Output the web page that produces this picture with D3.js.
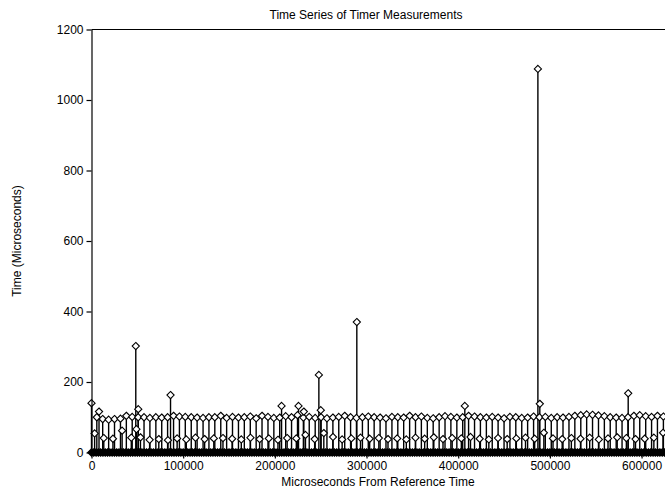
<!DOCTYPE html>
<html>
<head>
<meta charset="utf-8">
<script src="https://cdn.jsdelivr.net/npm/d3@7"></script>
<style>
  html, body { margin: 0; padding: 0; background: #fff; }
  svg { display: block; }
  text { font-family: "Liberation Sans", Arial, sans-serif; fill: #000; }
</style>
</head>
<body>
<svg id="chart" width="665" height="491"></svg>
<script>
// ---------- data (microseconds) ----------
const title = "Time Series of Timer Measurements";
const xLabel = "Microseconds From Reference Time";
const yLabel = "Time (Microseconds)";
const xTicks = [0, 100000, 200000, 300000, 400000, 500000, 600000];
const yTicks = [0, 200, 400, 600, 800, 1000, 1200];

// regular ~100 us measurements
const highPoints = [
  [5800,100],[12200,95],[18700,93],[25100,95],[31600,96],[38000,104],[44400,101],[50900,100],[57300,100],[63700,98],
  [70200,100],[76600,99],[83000,100],[89500,104],[95900,102],[102300,101],[108800,100],[115200,99],[121700,98],[128100,100],
  [134500,100],[141000,104],[147400,98],[153800,101],[160300,99],[166700,100],[173200,102],[179600,97],[186000,104],[192500,101],
  [198900,98],[205300,99],[211800,103],[218200,100],[224700,106],[231100,99],[237500,101],[244000,98],[250400,100],[256800,97],
  [263300,99],[269700,101],[276200,104],[282600,100],[289000,98],[295500,100],[301900,102],[308300,100],[314800,99],[321200,97],
  [327700,101],[334100,100],[340500,99],[347000,104],[353400,100],[359800,102],[366300,98],[372700,97],[379200,100],[385600,103],
  [392000,101],[398500,99],[404900,100],[411300,104],[417800,102],[424200,100],[430700,99],[437100,101],[443500,99],[450000,97],
  [456400,101],[462800,100],[469300,98],[475700,99],[482200,102],[488600,100],[495000,101],[501500,98],[507900,100],[514300,99],
  [520800,101],[527200,104],[533700,106],[540100,108],[546500,107],[553000,105],[559400,103],[565800,100],[572300,99],[578700,98],
  [585200,100],[591600,104],[598000,106],[604500,103],[610900,101],[617300,104],[623800,102],[630200,100]
];

// ~40 us measurements
const midPoints = [
  [3400,54],[13400,41],[23400,39],[33400,62],[43400,42],[53400,43],[63400,36],[73400,38],[83400,35],[93400,40],
  [103400,37],[113400,42],[123400,38],[133400,40],[143400,41],[153400,39],[163400,37],[173400,42],[183400,38],[193400,40],
  [203400,36],[213400,41],[223400,40],[233400,50],[243400,38],[253400,55],[263400,44],[273400,37],[283400,40],[293400,42],
  [303400,39],[313400,41],[323400,38],[333400,40],[343400,37],[353400,42],[363400,39],[373400,43],[383400,38],[393400,41],
  [403400,40],[413400,44],[423400,39],[433400,37],[443400,41],[453400,38],[463400,40],[473400,42],[483400,39],[493400,56],
  [503400,40],[513400,38],[523400,41],[533400,39],[543400,42],[553400,37],[563400,40],[573400,43],[583400,41],[593400,38],
  [603400,39],[613400,42],[623400,56]
];

// isolated larger readings
const spikePoints = [
  [0,140],[8200,116],[48300,302],[49000,66],[51000,123],[86200,163],[207300,132],[225800,132],[231600,116],
  [248000,220],[250100,120],[289400,370],[407200,132],[486900,1088],[489000,138],[585400,168]
];

// near-zero readings (dense band on the baseline)
const baseTimes = [
  0,2500,5000,7500,10000,12500,15000,17500,20000,22500,25000,27500,30000,32500,35000,37500,40000,42500,45000,47500,
  50000,52500,55000,57500,60000,62500,65000,67500,70000,72500,75000,77500,80000,82500,85000,87500,90000,92500,95000,97500,
  100000,102500,105000,107500,110000,112500,115000,117500,120000,122500,125000,127500,130000,132500,135000,137500,140000,142500,145000,147500,
  150000,152500,155000,157500,160000,162500,165000,167500,170000,172500,175000,177500,180000,182500,185000,187500,190000,192500,195000,197500,
  200000,202500,205000,207500,210000,212500,215000,217500,220000,222500,225000,227500,230000,232500,235000,237500,240000,242500,245000,247500,
  250000,252500,255000,257500,260000,262500,265000,267500,270000,272500,275000,277500,280000,282500,285000,287500,290000,292500,295000,297500,
  300000,302500,305000,307500,310000,312500,315000,317500,320000,322500,325000,327500,330000,332500,335000,337500,340000,342500,345000,347500,
  350000,352500,355000,357500,360000,362500,365000,367500,370000,372500,375000,377500,380000,382500,385000,387500,390000,392500,395000,397500,
  400000,402500,405000,407500,410000,412500,415000,417500,420000,422500,425000,427500,430000,432500,435000,437500,440000,442500,445000,447500,
  450000,452500,455000,457500,460000,462500,465000,467500,470000,472500,475000,477500,480000,482500,485000,487500,490000,492500,495000,497500,
  500000,502500,505000,507500,510000,512500,515000,517500,520000,522500,525000,527500,530000,532500,535000,537500,540000,542500,545000,547500,
  550000,552500,555000,557500,560000,562500,565000,567500,570000,572500,575000,577500,580000,582500,585000,587500,590000,592500,595000,597500,
  600000,602500,605000,607500,610000,612500,615000,617500,620000,622500,625000,627500,630000
];
const baseValue = 0;

// ---------- drawing ----------
const svg = d3.select("#chart");
const x = d3.scaleLinear().domain([0, 625000]).range([91.5, 664.5]);
const y = d3.scaleLinear().domain([0, 1200]).range([452.5, 29.5]);

const toObj = p => ({ t: p[0], v: p[1] });
const upper = [...highPoints, ...midPoints, ...spikePoints].map(toObj);
const base = baseTimes.map(t => ({ t: t, v: baseValue }));

const diamond = r => `M0,${-r}L${r},0L0,${r}L${-r},0Z`;

// stems
svg.append("g").selectAll("line").data(upper).join("line")
  .attr("x1", d => x(d.t)).attr("x2", d => x(d.t))
  .attr("y1", y(0)).attr("y2", d => y(d.v))
  .attr("stroke", "#000").attr("stroke-width", 1.4);

// upper markers
svg.append("g").selectAll("path").data(upper).join("path")
  .attr("d", diamond(3.6))
  .attr("transform", d => `translate(${x(d.t)},${y(d.v)})`)
  .attr("fill", "#fff").attr("stroke", "#000").attr("stroke-width", 1.1);

// baseline band markers
svg.append("g").selectAll("path").data(base).join("path")
  .attr("d", diamond(3.6))
  .attr("transform", d => `translate(${x(d.t)},${y(d.v)})`)
  .attr("fill", "#000").attr("stroke", "#000").attr("stroke-width", 1.4);

// axes
const yAxis = d3.axisLeft(y).tickValues(yTicks).tickSize(5).tickSizeOuter(0).tickPadding(3).tickFormat(d3.format("d"));
const gy = svg.append("g").attr("transform", `translate(${x(0)},0)`).call(yAxis);
gy.selectAll("text").style("font-size", "12px").style("font-family", "'Liberation Sans', Arial, sans-serif");

const xAxis = d3.axisBottom(x).tickValues(xTicks).tickSize(6).tickSizeOuter(0).tickPadding(3).tickFormat(d3.format("d"));
const gx = svg.append("g").attr("transform", `translate(0,${y(0)})`).call(xAxis);
gx.selectAll("text").style("font-size", "12px").style("font-family", "'Liberation Sans', Arial, sans-serif");

svg.selectAll(".domain, .tick line").attr("stroke", "#000").attr("stroke-width", 1.2);

// top frame line
svg.append("line")
  .attr("x1", x(0)).attr("x2", 665)
  .attr("y1", y(1200)).attr("y2", y(1200))
  .attr("stroke", "#000").attr("stroke-width", 1.2);

// labels
svg.append("text").attr("x", 366).attr("y", 19).attr("text-anchor", "middle")
  .style("font-size", "12px").text(title);
svg.append("text").attr("x", 378).attr("y", 486).attr("text-anchor", "middle")
  .style("font-size", "12px").text(xLabel);
svg.append("text").attr("transform", "translate(21,241) rotate(-90)").attr("text-anchor", "middle")
  .style("font-size", "12px").text(yLabel);
</script>
</body>
</html>
